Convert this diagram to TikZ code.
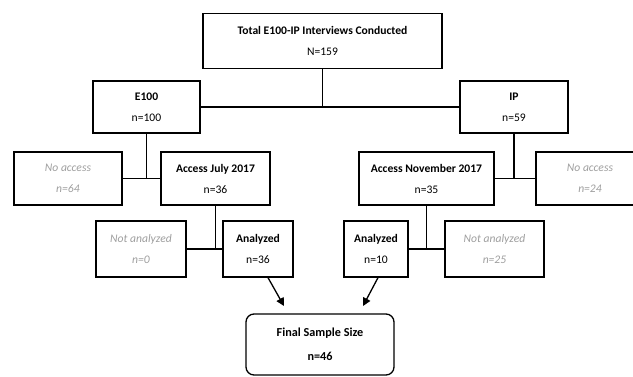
\documentclass[tikz,border=0pt]{standalone}
\usepackage{fontspec}
\setmainfont{Carlito}
\usetikzlibrary{arrows.meta}

\begin{document}
\begin{tikzpicture}[x=1pt, y=-1pt, line width=1.3pt,
  font=\fontsize{11.6}{21}\selectfont,
  box/.style = {draw, align=center, inner sep=0pt},
  grey/.style = {box, text=black!38, font=\fontsize{11.6}{21}\selectfont\itshape},
  final/.style = {box, rounded corners=8pt, font=\fontsize{12.2}{24}\selectfont},
  arrow/.style = {-{Triangle[length=8pt,width=8pt]}}]
          \clip (0,0) rectangle (633,376);
          \node[box, minimum width=239pt, minimum height=55pt](total) at (322.5,41){\textbf{Total E100-IP Interviews Conducted}\\N=159};
          \node[box, minimum width=107pt, minimum height=52pt](e100) at (146.5,107){\textbf{E100}\\n=100};
          \node[box, minimum width=108pt, minimum height=52pt](ip) at (514,107){\textbf{IP}\\n=59};
          \node[grey, minimum width=108pt, minimum height=53pt](noaccL) at (68,178.5){No access\\n=64};
          \node[box, minimum width=109pt, minimum height=53pt](julyacc) at (215.5,178.5){\textbf{Access July 2017}\\n=36};
          \node[box, minimum width=135pt, minimum height=53pt](novacc) at (426.5,178.5){\textbf{Access November 2017}\\n=35};
          \node[grey, minimum width=108pt, minimum height=53pt](noaccR) at (590,178.5){No access\\n=24};
          \node[grey, minimum width=90pt, minimum height=56pt](notanL) at (141,249){Not analyzed\\n=0};
          \node[box, minimum width=70pt, minimum height=56pt](anL) at (258,249){\textbf{Analyzed}\\n=36};
          \node[box, minimum width=64pt, minimum height=56pt](anR) at (376,249){\textbf{Analyzed}\\n=10};
          \node[grey, minimum width=99pt, minimum height=56pt](notanR) at (494.5,249){Not analyzed\\n=25};
          \node[final, minimum width=148pt, minimum height=61pt](final) at (320,344.5){\textbf{Final Sample Size}\\\textbf{n=46}};
          \coordinate (arrL) at (284,306);
          \coordinate (arrR) at (363,306);
          \draw (total) -- (total |- e100);
          \draw (e100) -- (ip);
          \draw (e100) -- (e100 |- julyacc);
          \draw (noaccL) -- (julyacc);
          \draw (ip) -- (ip |- novacc);
          \draw (novacc) -- (noaccR);
          \draw (julyacc) -- (julyacc |- anL);
          \draw (notanL) -- (anL);
          \draw (novacc) -- (novacc |- anR);
          \draw (anR) -- (notanR);
          \draw[arrow] ([xshift=10pt]anL.south) -- (arrL);
          \draw[arrow] ([xshift=2pt]anR.south) -- (arrR);
        \end{tikzpicture}
\end{document}
